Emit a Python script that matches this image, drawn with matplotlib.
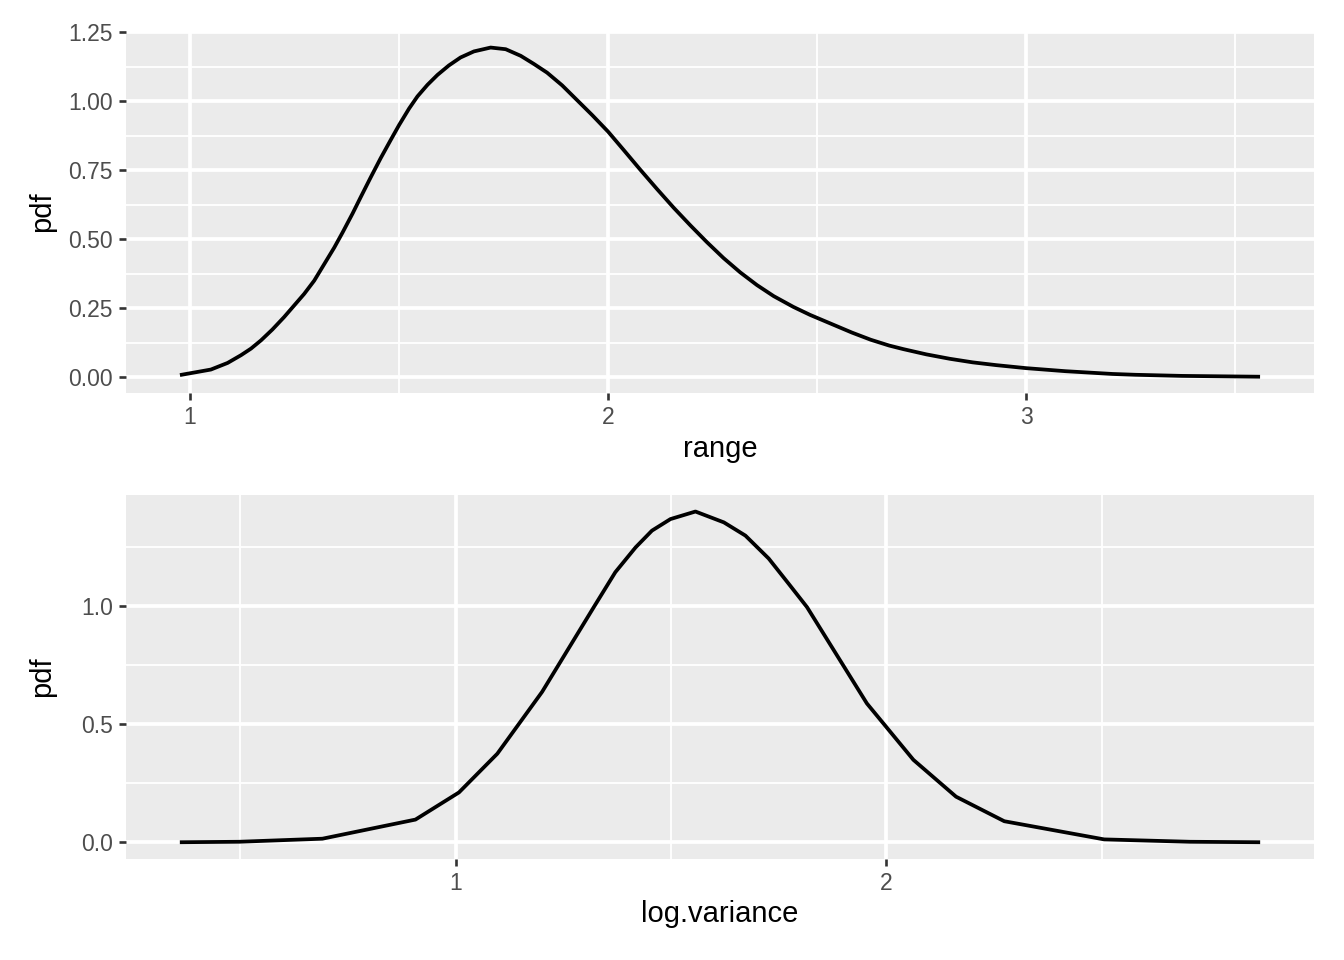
import matplotlib
matplotlib.use("Agg")
import matplotlib.pyplot as plt
from matplotlib.ticker import MultipleLocator

# top panel: pdf of the range
range_x = [0.976, 1.050, 1.090, 1.122, 1.146, 1.170, 1.197, 1.225, 1.249, 1.273,
           1.297, 1.321, 1.345, 1.365, 1.389, 1.408, 1.432, 1.456, 1.480, 1.500,
           1.524, 1.544, 1.568, 1.592, 1.619, 1.647, 1.679, 1.719, 1.755, 1.791,
           1.822, 1.854, 1.890, 1.926, 1.962, 2.000, 2.037, 2.077, 2.117, 2.157,
           2.197, 2.236, 2.276, 2.316, 2.356, 2.396, 2.443, 2.483, 2.583, 2.628,
           2.672, 2.706, 2.761, 2.817, 2.872, 2.928, 3.000, 3.094, 3.206, 3.261,
           3.372, 3.559]
range_pdf = [0.008, 0.028, 0.052, 0.080, 0.104, 0.134, 0.173, 0.218, 0.260, 0.302,
             0.350, 0.410, 0.470, 0.525, 0.594, 0.652, 0.724, 0.794, 0.860, 0.914,
             0.974, 1.018, 1.060, 1.096, 1.130, 1.159, 1.181, 1.195, 1.189, 1.165,
             1.136, 1.104, 1.058, 1.004, 0.950, 0.890, 0.824, 0.752, 0.682, 0.614,
             0.550, 0.490, 0.432, 0.380, 0.334, 0.294, 0.255, 0.226, 0.162, 0.136,
             0.115, 0.102, 0.083, 0.067, 0.054, 0.044, 0.033, 0.022, 0.012, 0.009,
             0.005, 0.002]

# bottom panel: pdf of the log variance
logvar_x = [0.360, 0.497, 0.691, 0.907, 1.008, 1.097, 1.201, 1.321, 1.371, 1.418,
            1.456, 1.499, 1.557, 1.623, 1.673, 1.727, 1.773, 1.816, 1.955, 2.063,
            2.162, 2.274, 2.506, 2.705, 2.868]
logvar_pdf = [0.001, 0.003, 0.016, 0.097, 0.212, 0.376, 0.638, 0.997, 1.145, 1.250,
              1.321, 1.370, 1.402, 1.356, 1.300, 1.203, 1.097, 0.997, 0.589, 0.350,
              0.194, 0.090, 0.013, 0.003, 0.001]

W, H = 1344, 960
fig = plt.figure(figsize=(W / 100, H / 100), dpi=100)
plt.rcParams['font.family'] = ['Liberation Sans', 'DejaVu Sans']


def style(ax):
    ax.set_facecolor('#EBEBEB')
    for s in ax.spines.values():
        s.set_visible(False)
    ax.grid(which='major', color='white', linewidth=2.7)
    ax.grid(which='minor', color='white', linewidth=1.35)
    ax.set_axisbelow(True)
    ax.tick_params(which='major', length=5.3, width=1.9, color='#333333',
                   labelsize=16.5, labelcolor='#4D4D4D', pad=4.2)
    ax.tick_params(which='minor', length=0)


def panel(top, bottom):
    return fig.add_axes([126 / W, (H - bottom) / H, 1188 / W, (bottom - top) / H])


# top panel
ax1 = panel(31, 393)
ax1.plot(range_x, range_pdf, color='black', linewidth=2.7,
         solid_capstyle='butt', solid_joinstyle='round')
ax1.set_xlim(0.847, 3.688)
ax1.set_ylim(-0.057, 1.255)
ax1.xaxis.set_major_locator(MultipleLocator(1))
ax1.xaxis.set_minor_locator(MultipleLocator(0.5))
ax1.yaxis.set_minor_locator(MultipleLocator(0.125))
ax1.set_yticks([0, 0.25, 0.5, 0.75, 1.0, 1.25])
ax1.set_yticklabels(['0.00', '0.25', '0.50', '0.75', '1.00', '1.25'])
style(ax1)

# bottom panel
ax2 = panel(495, 859)
ax2.plot(logvar_x, logvar_pdf, color='black', linewidth=2.7,
         solid_capstyle='butt', solid_joinstyle='round')
ax2.set_xlim(0.235, 2.993)
ax2.set_ylim(-0.07, 1.472)
ax2.xaxis.set_major_locator(MultipleLocator(1))
ax2.xaxis.set_minor_locator(MultipleLocator(0.5))
ax2.yaxis.set_minor_locator(MultipleLocator(0.25))
ax2.set_yticks([0, 0.5, 1.0])
ax2.set_yticklabels(['0.0', '0.5', '1.0'])
style(ax2)

# axis titles
fig.text(720 / W, 1 - 449 / H, 'range', ha='center', va='center', fontsize=21)
fig.text(720 / W, 1 - 914 / H, 'log.variance', ha='center', va='center', fontsize=21)
fig.text(42 / W, 1 - 212 / H, 'pdf', ha='center', va='center', rotation=90, fontsize=21)
fig.text(42 / W, 1 - 677 / H, 'pdf', ha='center', va='center', rotation=90, fontsize=21)

fig.savefig('out.png', dpi=100, facecolor='white')
